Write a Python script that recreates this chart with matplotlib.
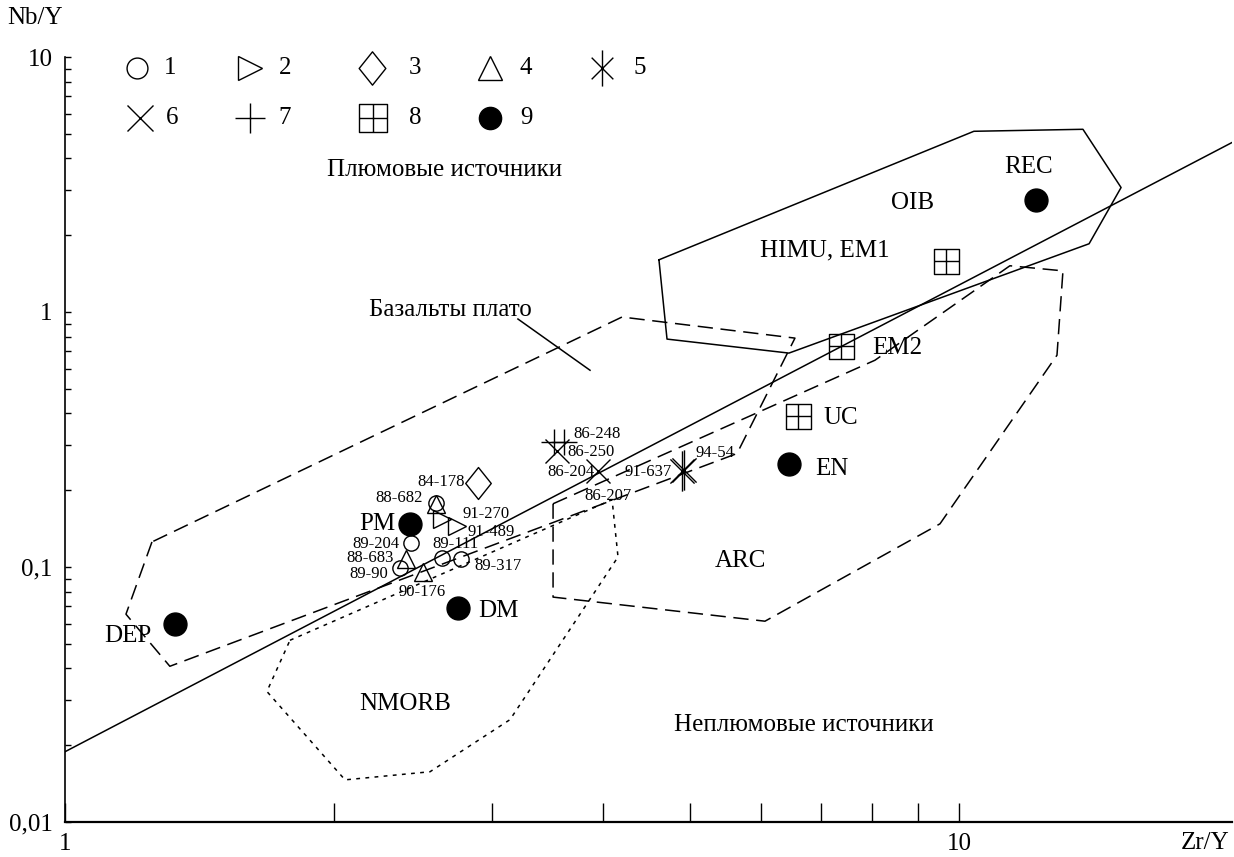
import matplotlib
matplotlib.use("Agg")
import matplotlib.pyplot as plt
from matplotlib.path import Path
from matplotlib.ticker import FixedLocator, NullFormatter

plt.rcParams['font.family'] = ['Liberation Serif', 'DejaVu Serif']

# ---------------- data ----------------
# type 1: open circles
t1_x = [2.598, 2.436, 2.370, 2.642, 2.771]
t1_y = [0.1786, 0.1243, 0.0989, 0.1082, 0.1075]
# type 2: right triangles
t2_x = [2.638, 2.747]
t2_y = [0.1545, 0.1454]
# type 3: diamond
t3_x = [2.900]
t3_y = [0.2136]
# type 4: up triangles
t4_x = [2.598, 2.405, 2.517]
t4_y = [0.176, 0.1075, 0.0953]
# type 5: asterisks
t5_x = [4.896, 4.93]
t5_y = [0.2372, 0.2395]
# type 6: crosses (x)
t6_x = [3.550, 3.948]
t6_y = [0.2862, 0.2388]
# type 7: plus
t7_x = [3.524, 3.615]
t7_y = [0.3078, 0.3078]
# type 8: boxed squares (HIMU/EM1, EM2, UC)
t8_x = [9.67, 7.38, 6.61]
t8_y = [1.588, 0.7349, 0.3896]
# type 9: filled circles (REC, EN, PM, DM, DEP)
t9_x = [12.19, 6.45, 2.432, 2.752, 1.327]
t9_y = [2.761, 0.2543, 0.1477, 0.069, 0.0597]

# main trend line
line_x = [1.0, 20.2]
line_y = [0.01886, 4.62]

# fields
oib_x = [4.617, 10.39, 13.76, 15.18, 13.98, 6.453, 4.714, 4.617]
oib_y = [1.602, 5.113, 5.206, 3.077, 1.852, 0.690, 0.783, 1.602]

plateau_x = [1.251, 1.170, 1.310, 5.645, 6.554, 4.198, 1.251]
plateau_y = [0.1254, 0.0653, 0.0408, 0.2786, 0.790, 0.9557, 0.1254]

arc_x = [3.515, 8.054, 11.40, 13.07, 12.87, 9.522, 6.067, 3.515, 3.515]
arc_y = [0.1770, 0.647, 1.518, 1.450, 0.677, 0.1477, 0.0613, 0.0762, 0.1770]

nmorb_x = [1.785, 4.092, 4.155, 3.146, 2.560, 2.057, 1.682, 1.785]
nmorb_y = [0.0516, 0.1836, 0.1095, 0.0252, 0.01574, 0.01463, 0.0325, 0.0516]

pointer_x = [3.211, 3.866]
pointer_y = [0.9385, 0.591]

# sample labels
sample_labels = ["84-178", "88-682", "91-270", "91-489", "89-204", "89-111",
                 "88-683", "89-90", "89-317", "90-176", "86-248", "86-250",
                 "86-204", "86-207", "91-637", "94-54"]
sample_lx = [2.634, 2.367, 2.958, 2.996, 2.228, 2.731, 2.193, 2.188, 3.051,
             2.507, 3.936, 3.875, 3.681, 4.050, 4.488, 5.335]
sample_ly = [0.2161, 0.1869, 0.1617, 0.1373, 0.1232, 0.1232, 0.1085, 0.0938,
             0.1009, 0.0797, 0.3310, 0.2837, 0.2366, 0.1903, 0.2366, 0.2811]

# region labels
region_labels = ["Плюмовые источники", "Базальты плато", "OIB", "HIMU, EM1",
                 "REC", "ARC", "NMORB", "Неплюмовые источники"]
region_x = [2.661, 2.696, 8.862, 7.082, 11.95, 5.70, 2.400, 6.707]
region_y = [3.589, 1.018, 2.686, 1.739, 3.69, 0.1056, 0.0289, 0.0241]

left_labels = ["EM2", "UC", "EN", "DM"]
left_x = [7.995, 7.046, 6.902, 2.897]
left_y = [0.722, 0.383, 0.243, 0.0671]

right_labels = ["PM", "DEP"]
right_x = [2.340, 1.251]
right_y = [0.1477, 0.0535]

legend_labels = ["1", "2", "3", "4", "5", "6", "7", "8", "9"]

# ---------------- markers ----------------
ast_path = Path([(-0.6, -0.6), (0.6, 0.6), (-0.6, 0.6), (0.6, -0.6), (0, -1), (0, 1)],
                [Path.MOVETO, Path.LINETO, Path.MOVETO, Path.LINETO, Path.MOVETO, Path.LINETO])
box_path = Path([(-1, -1), (1, -1), (1, 1), (-1, 1), (-1, -1), (0, -1), (0, 1), (-1, 0), (1, 0)],
                [Path.MOVETO, Path.LINETO, Path.LINETO, Path.LINETO, Path.CLOSEPOLY,
                 Path.MOVETO, Path.LINETO, Path.MOVETO, Path.LINETO])
dia_path = Path([(0, 1), (0.8, 0), (0, -1), (-0.8, 0), (0, 1)],
                [Path.MOVETO, Path.LINETO, Path.LINETO, Path.LINETO, Path.CLOSEPOLY])

K = 'black'
mk_open = dict(mfc='none', mec=K, mew=1.0, ls='none')

# ---------------- figure ----------------
fig = plt.figure(figsize=(12.34, 8.57), dpi=100)
ax = fig.add_axes([65 / 1234, 35 / 857, 1167 / 1234, 765 / 857])
ax.set_xscale('log')
ax.set_yscale('log')
ax.set_xlim(1, 20.2)
ax.set_ylim(0.01, 10)

lw = 1.1
ax.plot(line_x, line_y, color=K, lw=lw)
ax.plot(oib_x, oib_y, color=K, lw=lw)
ax.plot(plateau_x, plateau_y, color=K, lw=lw, ls=(0, (10, 5)))
ax.plot(arc_x, arc_y, color=K, lw=lw, ls=(0, (10, 5)))
ax.plot(nmorb_x, nmorb_y, color=K, lw=lw, ls=(0, (2.5, 3.5)))
ax.plot(pointer_x, pointer_y, color=K, lw=lw)

ax.plot(t1_x, t1_y, marker='o', ms=11, **mk_open)
ax.plot(t2_x, t2_y, marker='>', ms=13, **mk_open)
ax.plot(t3_x, t3_y, marker=dia_path, ms=23, **mk_open)
ax.plot(t4_x, t4_y, marker='^', ms=13, **mk_open)
ax.plot(t5_x, t5_y, marker=ast_path, ms=29, **mk_open)
ax.plot(t6_x, t6_y, marker='x', ms=17, **mk_open)
ax.plot(t7_x, t7_y, marker='+', ms=19, **mk_open)
ax.plot(t8_x, t8_y, marker=box_path, ms=18, **mk_open)
ax.plot(t9_x, t9_y, marker='o', ms=16.5, mfc=K, mec=K, ls='none')

for s, x, y in zip(sample_labels, sample_lx, sample_ly):
    ax.text(x, y, s, fontsize=12, ha='center', va='center')
for s, x, y in zip(region_labels, region_x, region_y):
    ax.text(x, y, s, fontsize=18, ha='center', va='center')
for s, x, y in zip(left_labels, left_x, left_y):
    ax.text(x, y, s, fontsize=18, ha='left', va='center')
for s, x, y in zip(right_labels, right_x, right_y):
    ax.text(x, y, s, fontsize=18, ha='right', va='center')

# legend (manual, two rows)
leg_mk = [dict(marker='o', ms=15), dict(marker='>', ms=17), dict(marker=dia_path, ms=24),
          dict(marker='^', ms=17), dict(marker=ast_path, ms=26), dict(marker='x', ms=19),
          dict(marker='+', ms=22), dict(marker=box_path, ms=20), dict(marker='o', ms=16)]
leg_mx = [0.0617, 0.1585, 0.2631, 0.3642, 0.4602, 0.0643, 0.1585, 0.2639, 0.3642]
leg_tx = [0.0900, 0.1885, 0.2999, 0.3950, 0.4927, 0.0917, 0.1885, 0.2999, 0.3950]
leg_y = [0.9856] * 5 + [0.9203] * 4
for i, lab in enumerate(legend_labels):
    if i == 8:
        ax.plot([leg_mx[i]], [leg_y[i]], transform=ax.transAxes, mfc=K, mec=K,
                ls='none', clip_on=False, **leg_mk[i])
    else:
        ax.plot([leg_mx[i]], [leg_y[i]], transform=ax.transAxes, clip_on=False,
                **mk_open, **leg_mk[i])
    ax.text(leg_tx[i], leg_y[i], lab, transform=ax.transAxes, fontsize=18,
            ha='center', va='center')

# axes styling
for side in ['top', 'right']:
    ax.spines[side].set_visible(False)
ax.spines['left'].set_linewidth(1.2)
ax.spines['bottom'].set_linewidth(1.6)

ax.xaxis.set_major_locator(FixedLocator([1, 10]))
ax.set_xticklabels(['1', '10'])
ax.xaxis.set_minor_locator(FixedLocator([2, 3, 4, 5, 6, 7, 8, 9]))
ax.xaxis.set_minor_formatter(NullFormatter())
ax.tick_params(axis='x', which='both', direction='in', length=14, width=1.0,
               labelsize=18, pad=8)

ax.yaxis.set_major_locator(FixedLocator([0.01, 0.1, 1, 10]))
ax.set_yticklabels(['0,01', '0,1', '1', '10'])
ax.yaxis.set_minor_locator(FixedLocator([m * 10.0 ** e for e in (-2, -1, 0) for m in range(2, 10)]))
ax.yaxis.set_minor_formatter(NullFormatter())
ax.tick_params(axis='y', which='both', direction='in', length=4, width=1.0,
               labelsize=18, pad=9)

fig.text(35 / 1234, 1 - 18 / 857, 'Nb/Y', fontsize=18, ha='center', va='center')
fig.text(1205 / 1234, 1 - 843 / 857, 'Zr/Y', fontsize=18, ha='center', va='center')

fig.savefig('out.png', dpi=100)
